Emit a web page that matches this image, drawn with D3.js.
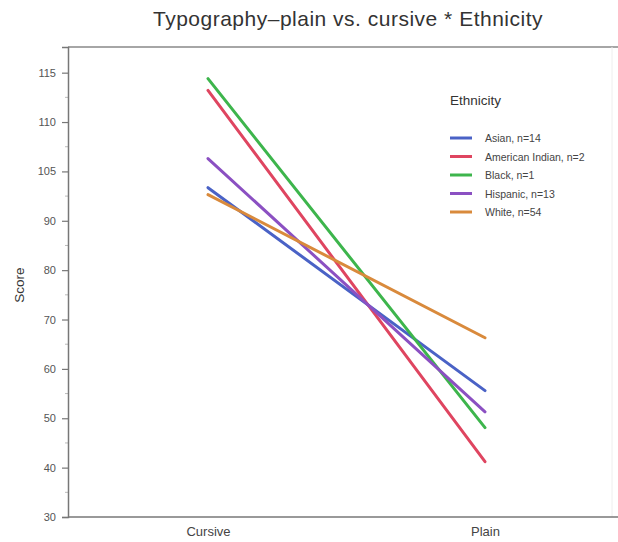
<!DOCTYPE html>
<html>
<head>
<meta charset="utf-8">
<script src="https://cdn.jsdelivr.net/npm/d3@7"></script>
<style>
  html, body { margin: 0; padding: 0; background: #fff; }
  svg { display: block; font-family: "Liberation Sans", Arial, sans-serif; }
</style>
</head>
<body>
<svg id="chart" width="618" height="542"></svg>
<script>
// ---- data ----
const conditions = ["Cursive", "Plain"];
const groups = ["Asian, n=14", "American Indian, n=2", "Black, n=1", "Hispanic, n=13", "White, n=54"];
const cursiveScores = [96.7, 116.4, 118.8, 102.6, 95.3];
const plainScores = [55.6, 41.2, 48.1, 51.3, 66.3];
const colors = ["#4a62c6", "#df4560", "#3db54c", "#8b50c2", "#d98a3c"];
const yTickValues = [30, 40, 50, 60, 70, 80, 90, 100, 110, 120];
const yTickLabels = ["30", "40", "50", "60", "70", "80", "90", "105", "110", "115"];

// ---- layout ----
const svg = d3.select("#chart");
const W = 618, H = 542;
const m = { left: 68, right: 6, top: 47, bottom: 25 };
const plotBottom = H - m.bottom;

const x = d3.scalePoint().domain(conditions).range([208, 485]);
const y = d3.scaleLinear().domain([30, 125.2]).range([plotBottom, m.top]);

// title
svg.append("text")
  .attr("x", 348).attr("y", 26)
  .attr("text-anchor", "middle")
  .attr("font-size", 21)
  .attr("letter-spacing", 0.5)
  .attr("fill", "#333")
  .text("Typography\u2013plain vs. cursive * Ethnicity");

// frame: top and right
svg.append("line").attr("x1", m.left).attr("x2", W).attr("y1", m.top).attr("y2", m.top)
  .attr("stroke", "#888").attr("stroke-width", 1.5);
svg.append("line").attr("x1", 612).attr("x2", 612).attr("y1", m.top).attr("y2", plotBottom)
  .attr("stroke", "#eee").attr("stroke-width", 1);

// minor ticks on y
const minor = d3.range(35, 125, 10);
svg.append("g").selectAll("line").data(minor).join("line")
  .attr("x1", m.left - 3).attr("x2", m.left)
  .attr("y1", d => y(d)).attr("y2", d => y(d))
  .attr("stroke", "#bbb").attr("stroke-width", 1);

// y axis
const yAxis = svg.append("g")
  .attr("transform", `translate(${m.left},0)`)
  .call(d3.axisLeft(y).tickValues(yTickValues)
    .tickFormat((d, i) => yTickLabels[i]).tickSize(6).tickPadding(6));
yAxis.select(".domain").attr("stroke", "#777").attr("stroke-width", 1.5);
yAxis.selectAll(".tick line").attr("stroke", "#777").attr("stroke-width", 1.2);
yAxis.selectAll(".tick text").attr("fill", "#555").attr("font-size", 11)
  .attr("font-family", "Liberation Sans, Arial, sans-serif");

// x axis
const xAxis = svg.append("g")
  .attr("transform", `translate(0,${plotBottom})`)
  .call(d3.axisBottom(x).tickSize(0).tickPadding(10));
xAxis.select(".domain").remove();
svg.append("line").attr("x1", m.left).attr("x2", W).attr("y1", plotBottom).attr("y2", plotBottom)
  .attr("stroke", "#777").attr("stroke-width", 1.5);
xAxis.selectAll(".tick text").attr("fill", "#444").attr("font-size", 13)
  .attr("font-family", "Liberation Sans, Arial, sans-serif");

// y label
svg.append("text")
  .attr("transform", `translate(24,285) rotate(-90)`)
  .attr("text-anchor", "middle")
  .attr("font-size", 13.5)
  .attr("fill", "#333")
  .text("Score");

// lines
const series = groups.map((g, i) => ({
  name: g, color: colors[i],
  values: [{ c: conditions[0], v: cursiveScores[i] }, { c: conditions[1], v: plainScores[i] }]
}));
const line = d3.line().x(d => x(d.c)).y(d => y(d.v));
svg.append("g").selectAll("path").data(series).join("path")
  .attr("d", d => line(d.values))
  .attr("fill", "none")
  .attr("stroke", d => d.color)
  .attr("stroke-width", 3)
  .attr("stroke-linecap", "round");

// legend
const lg = svg.append("g").attr("transform", "translate(450,0)");
lg.append("text").attr("x", 0).attr("y", 105)
  .attr("font-size", 13.5).attr("fill", "#333").text("Ethnicity");
const rows = lg.selectAll("g.row").data(series).join("g")
  .attr("class", "row")
  .attr("transform", (d, i) => `translate(0,${138 + i * 18.5})`);
rows.append("line").attr("x1", 0).attr("x2", 22).attr("y1", 0).attr("y2", 0)
  .attr("stroke", d => d.color).attr("stroke-width", 3);
rows.append("text").attr("x", 35).attr("y", 4)
  .attr("font-size", 10.5).attr("fill", "#444").text(d => d.name);
</script>
</body>
</html>
